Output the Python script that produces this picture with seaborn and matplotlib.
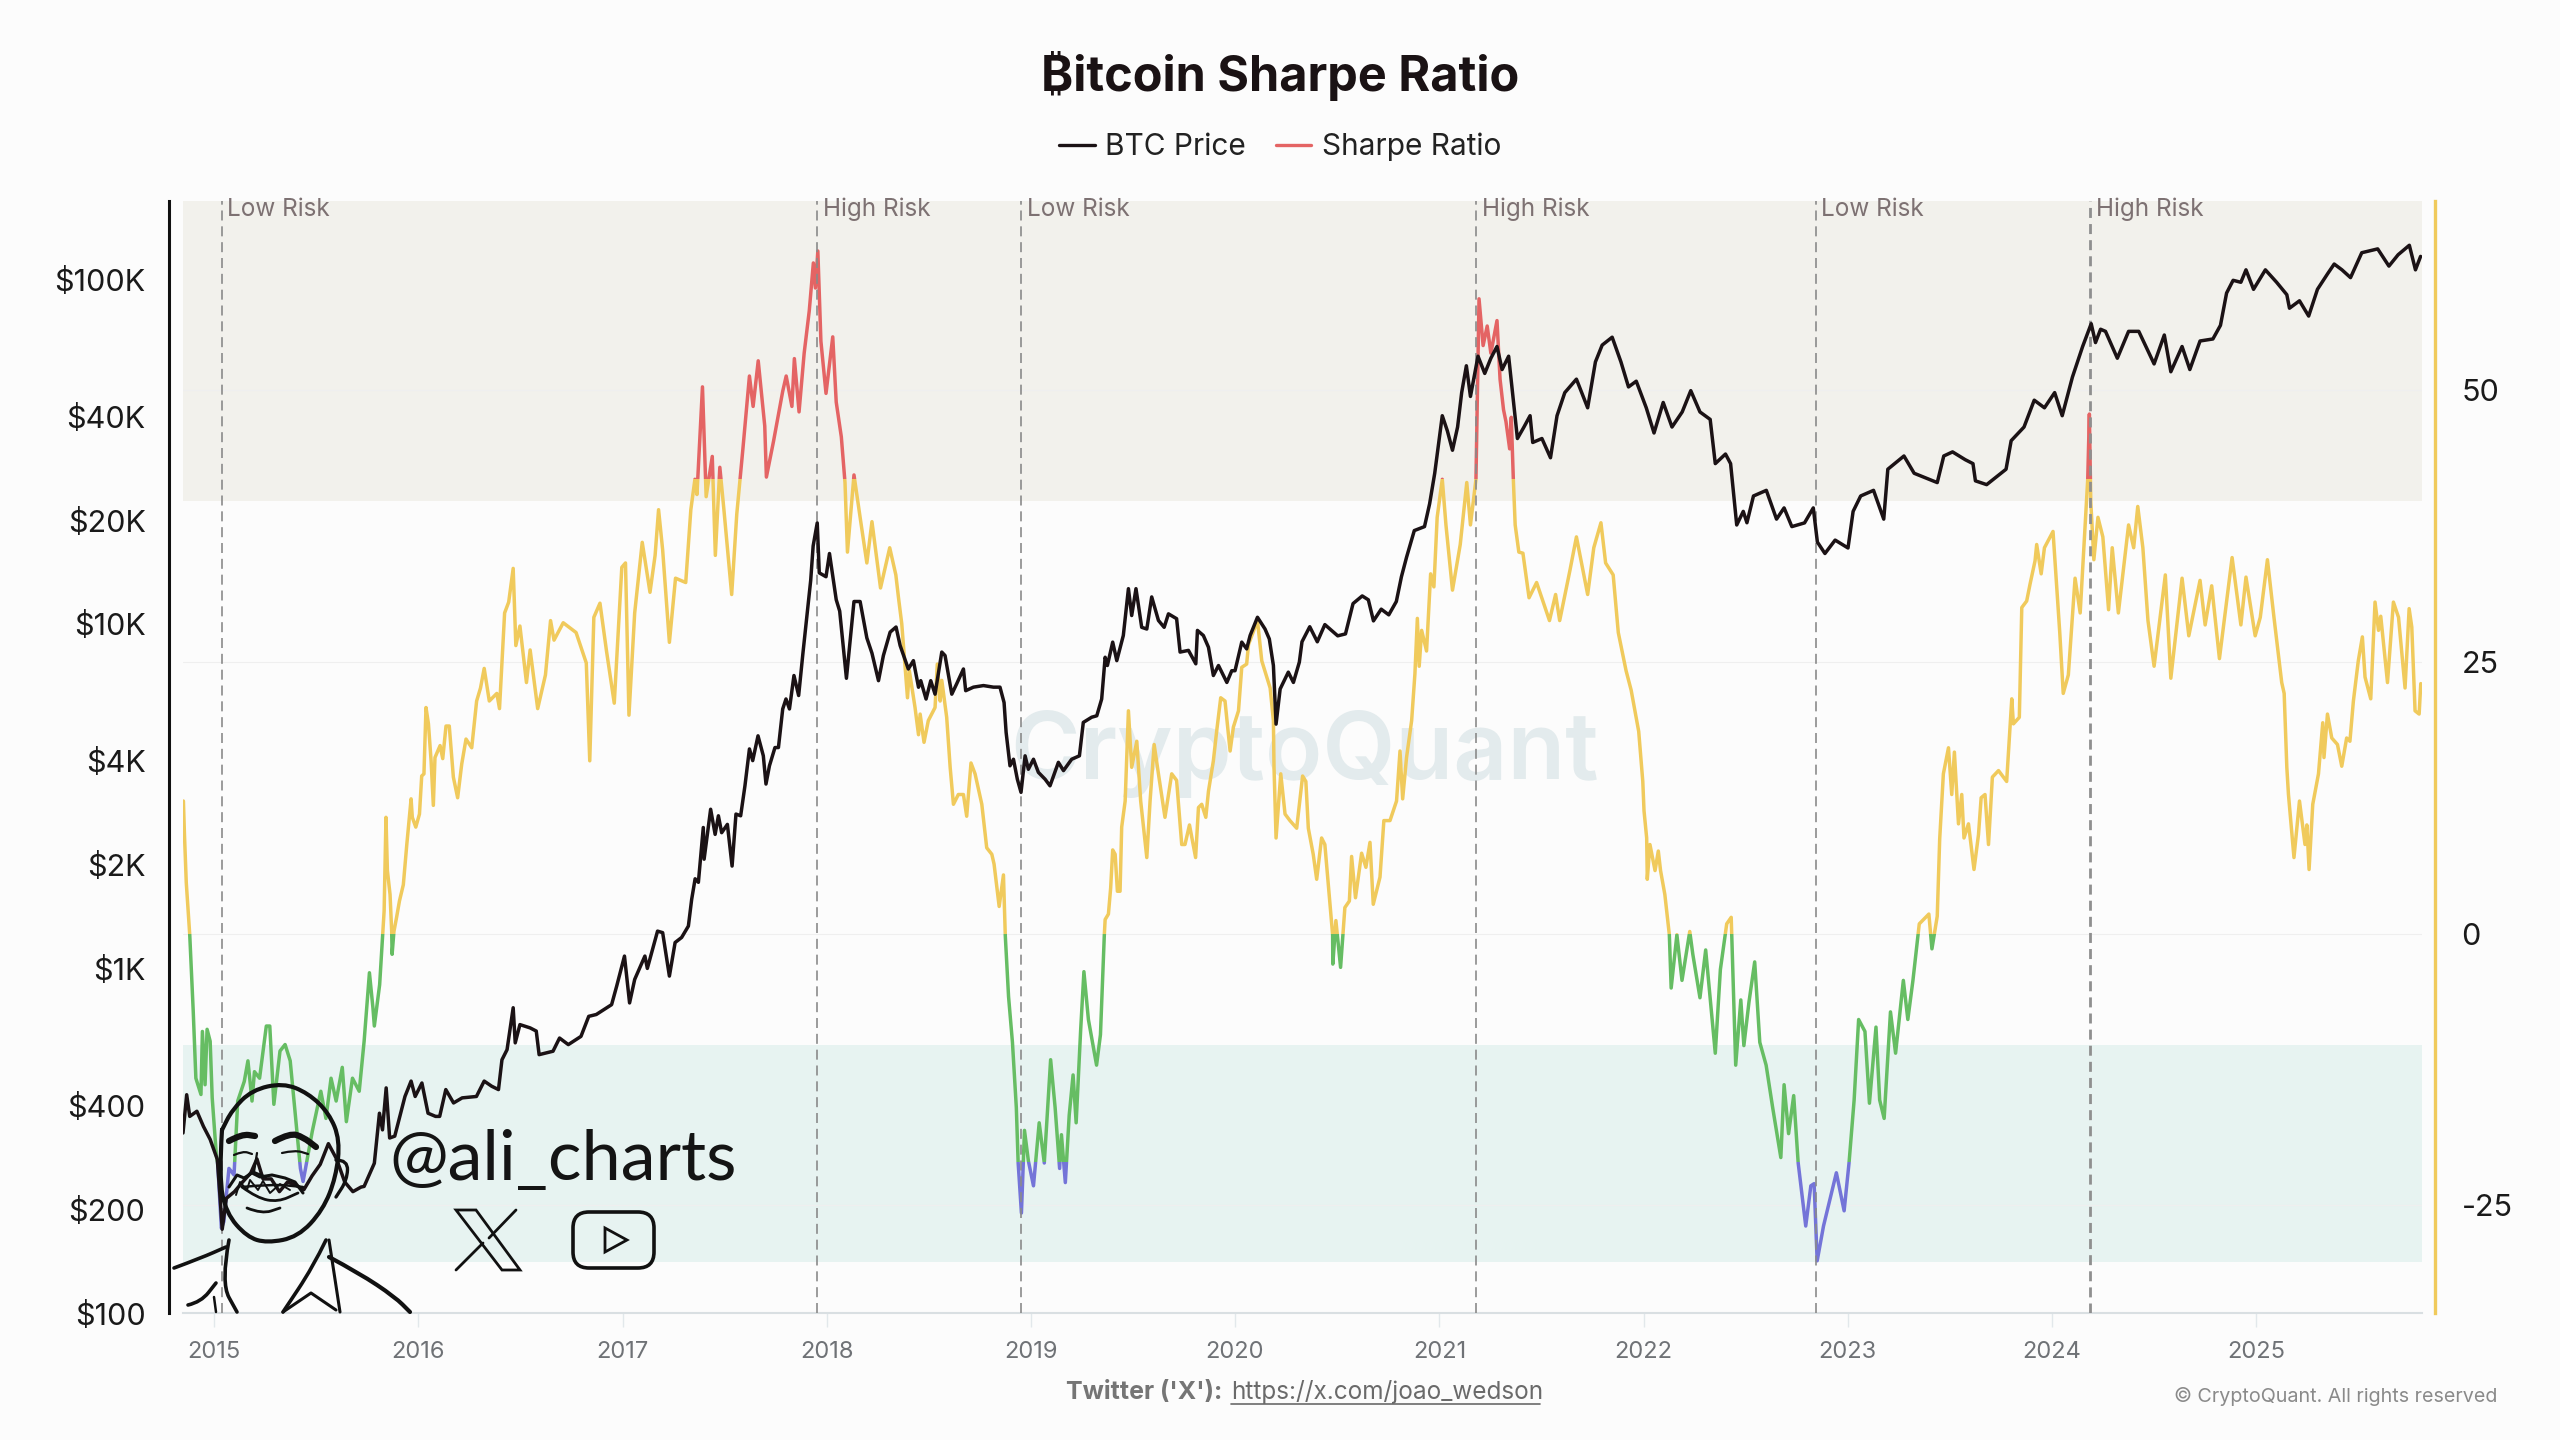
import numpy as np
import pandas as pd
import matplotlib
matplotlib.use("Agg")
import matplotlib.pyplot as plt
import matplotlib.dates as mdates
import matplotlib.transforms as mtrans
from matplotlib.lines import Line2D
from matplotlib.patches import Rectangle, FancyBboxPatch, Polygon, PathPatch
from matplotlib.path import Path
import seaborn as sns

# =========================
# DATA (x in decimal years)
# =========================

sharpe_years = [
    2014.85, 2014.855, 2014.864, 2014.881, 2014.898, 2014.911, 2014.936, 2014.943, 2014.956, 2014.966, 2014.981, 2014.991,
    2015.011, 2015.018, 2015.036, 2015.048, 2015.061, 2015.073, 2015.098, 2015.116, 2015.148, 2015.166, 2015.186, 2015.198,
    2015.223, 2015.256, 2015.273, 2015.293, 2015.323, 2015.348, 2015.373, 2015.398, 2015.423, 2015.436, 2015.448, 2015.481,
    2015.523, 2015.548, 2015.573, 2015.598, 2015.628, 2015.648, 2015.678, 2015.711, 2015.735, 2015.761, 2015.778, 2015.785,
    2015.811, 2015.826, 2015.833, 2015.842, 2015.849, 2015.862, 2015.870, 2015.872, 2015.881, 2015.894, 2015.908, 2015.927,
    2015.944, 2015.965, 2015.971, 2015.988, 2016.006, 2016.017, 2016.028, 2016.038, 2016.050, 2016.063, 2016.074, 2016.082,
    2016.107, 2016.12, 2016.136, 2016.152, 2016.172, 2016.193, 2016.213, 2016.234, 2016.262, 2016.286, 2016.305, 2016.323,
    2016.348, 2016.385, 2016.398, 2016.423, 2016.443, 2016.465, 2016.478, 2016.498, 2016.53, 2016.548, 2016.585, 2016.623,
    2016.648, 2016.665, 2016.71, 2016.773, 2016.823, 2016.84, 2016.86, 2016.89, 2016.922, 2016.96, 2016.997, 2017.015,
    2017.032, 2017.06, 2017.097, 2017.135, 2017.16, 2017.177, 2017.197, 2017.23, 2017.26, 2017.31, 2017.335, 2017.355,
    2017.365, 2017.392, 2017.41, 2017.44, 2017.455, 2017.477, 2017.497, 2017.535, 2017.56, 2017.59, 2017.622, 2017.64,
    2017.665, 2017.697, 2017.705, 2017.74, 2017.785, 2017.802, 2017.83, 2017.842, 2017.865, 2017.89, 2017.915, 2017.935,
    2017.945, 2017.957, 2017.972, 2017.997, 2018.03, 2018.047, 2018.072, 2018.09, 2018.102, 2018.134, 2018.164, 2018.197,
    2018.222, 2018.264, 2018.309, 2018.339, 2018.352, 2018.368, 2018.396, 2018.405, 2018.433, 2018.45, 2018.458, 2018.477,
    2018.498, 2018.531, 2018.542, 2018.556, 2018.564, 2018.588, 2018.605, 2018.621, 2018.645, 2018.67, 2018.686, 2018.707,
    2018.727, 2018.76, 2018.784, 2018.809, 2018.82, 2018.845, 2018.866, 2018.875, 2018.891, 2018.91, 2018.929, 2018.938,
    2018.954, 2018.969, 2018.988, 2019.013, 2019.041, 2019.066, 2019.097, 2019.119, 2019.141, 2019.15, 2019.169, 2019.188,
    2019.207, 2019.222, 2019.244, 2019.26, 2019.282, 2019.322, 2019.341, 2019.36, 2019.364, 2019.38, 2019.391, 2019.401,
    2019.413, 2019.424, 2019.437, 2019.445, 2019.462, 2019.478, 2019.494, 2019.519, 2019.538, 2019.568, 2019.584, 2019.604,
    2019.625, 2019.657, 2019.69, 2019.714, 2019.739, 2019.755, 2019.777, 2019.807, 2019.821, 2019.837, 2019.857, 2019.87,
    2019.894, 2019.91, 2019.93, 2019.951, 2019.976, 2019.992, 2020.017, 2020.033, 2020.057, 2020.066, 2020.11, 2020.131,
    2020.172, 2020.188, 2020.191, 2020.201, 2020.224, 2020.245, 2020.269, 2020.302, 2020.331, 2020.347, 2020.359, 2020.383,
    2020.4, 2020.424, 2020.44, 2020.457, 2020.478, 2020.479, 2020.494, 2020.517, 2020.538, 2020.56, 2020.571, 2020.59,
    2020.62, 2020.641, 2020.661, 2020.677, 2020.71, 2020.729, 2020.759, 2020.791, 2020.808, 2020.821, 2020.84, 2020.865,
    2020.881, 2020.893, 2020.902, 2020.914, 2020.938, 2020.958, 2020.974, 2020.99, 2021.015, 2021.033, 2021.065, 2021.103,
    2021.135, 2021.153, 2021.18, 2021.185, 2021.195, 2021.215, 2021.235, 2021.253, 2021.283, 2021.298, 2021.315, 2021.327,
    2021.345, 2021.353, 2021.363, 2021.372, 2021.39, 2021.41, 2021.44, 2021.477, 2021.54, 2021.57, 2021.59, 2021.64,
    2021.672, 2021.727, 2021.757, 2021.792, 2021.815, 2021.852, 2021.877, 2021.915, 2021.94, 2021.977, 2021.997, 2022.003,
    2022.016, 2022.019, 2022.032, 2022.057, 2022.073, 2022.084, 2022.105, 2022.127, 2022.136, 2022.164, 2022.189, 2022.227,
    2022.242, 2022.277, 2022.305, 2022.352, 2022.377, 2022.408, 2022.43, 2022.452, 2022.477, 2022.492, 2022.517, 2022.545,
    2022.57, 2022.601, 2022.633, 2022.673, 2022.689, 2022.711, 2022.736, 2022.758, 2022.795, 2022.82, 2022.836, 2022.851,
    2022.882, 2022.914, 2022.945, 2022.983, 2023.007, 2023.032, 2023.054, 2023.085, 2023.107, 2023.139, 2023.157, 2023.179,
    2023.21, 2023.235, 2023.273, 2023.295, 2023.32, 2023.351, 2023.398, 2023.413, 2023.439, 2023.451, 2023.469, 2023.494,
    2023.51, 2023.523, 2023.543, 2023.559, 2023.57, 2023.592, 2023.619, 2023.641, 2023.654, 2023.673, 2023.69, 2023.709,
    2023.739, 2023.779, 2023.804, 2023.812, 2023.841, 2023.853, 2023.877, 2023.894, 2023.918, 2023.926, 2023.948, 2023.964,
    2024.006, 2024.039, 2024.056, 2024.081, 2024.114, 2024.139, 2024.176, 2024.184, 2024.191, 2024.206, 2024.226, 2024.25,
    2024.278, 2024.296, 2024.326, 2024.376, 2024.401, 2024.421, 2024.446, 2024.471, 2024.501, 2024.556, 2024.583, 2024.638,
    2024.671, 2024.726, 2024.751, 2024.783, 2024.821, 2024.883, 2024.926, 2024.951, 2024.996, 2025.021, 2025.056, 2025.088,
    2025.126, 2025.138, 2025.151, 2025.159, 2025.186, 2025.213, 2025.24, 2025.249, 2025.26, 2025.278, 2025.306, 2025.327,
    2025.333, 2025.35, 2025.371, 2025.399, 2025.42, 2025.444, 2025.46, 2025.477, 2025.501, 2025.521, 2025.534, 2025.562,
    2025.583, 2025.6, 2025.611, 2025.644, 2025.673, 2025.698, 2025.73, 2025.75, 2025.763, 2025.779, 2025.799, 2025.807,
]

sharpe_values = [
    12.2, 9.2, 4.7, -0.1, -7.1, -13.3, -14.8, -9, -13.9, -8.8, -9.9, -15.1,
    -20.3, -21.2, -27.1, -26.5, -24, -21.6, -22.2, -15.4, -13.6, -11.7, -15.4, -12.7,
    -13.3, -8.5, -8.5, -15.7, -10.8, -10.2, -11.7, -16.6, -21.6, -22.8, -21.6, -18.2,
    -14.5, -17, -13.3, -15.4, -12.3, -17.3, -13.3, -14.5, -9.9, -3.6, -6.8, -8.5,
    -4.7, -0.1, 2.1, 10.7, 5.8, 3.6, 0.2, -1.9, 0.2, 1.5, 3, 4.5,
    8.2, 12.4, 10.7, 9.8, 11, 14.5, 14.7, 20.8, 19.3, 15.9, 11.8, 16.2,
    17.3, 16.1, 19.1, 19.1, 14.4, 12.5, 15.6, 17.9, 17.1, 21.4, 22.6, 24.4,
    21.4, 22.1, 20.7, 29.5, 30.5, 33.6, 26.5, 28.3, 23.1, 26.1, 20.7, 23.8,
    28.8, 27, 28.6, 27.7, 24.9, 15.9, 29.1, 30.4, 26, 21.2, 33.7, 34.1,
    20.1, 29.5, 36, 31.4, 34.8, 39, 35.3, 26.8, 32.7, 32.3, 39, 41.8,
    40.4, 50.3, 40.2, 43.9, 34.8, 42.9, 39, 31.2, 38.6, 44.6, 51.3, 48.5,
    52.7, 46.7, 42, 45.3, 49.9, 51.3, 48.5, 52.9, 48, 53.4, 57.3, 61.7,
    59.4, 62.8, 54.5, 49.7, 54.9, 48.9, 45.7, 41.5, 35.1, 42.2, 38.3, 34.1,
    37.9, 31.8, 35.5, 33, 30.9, 28.5, 21.7, 24.2, 20.8, 18.3, 20.2, 17.6,
    19.6, 20.8, 24.8, 21.4, 23.3, 19.9, 15.3, 11.9, 12.8, 12.8, 10.8, 15.7,
    14.7, 11.9, 7.9, 7.3, 6.4, 2.5, 5.4, -0.2, -5.8, -10, -16, -21.1,
    -25.7, -18.1, -20.9, -23.2, -17.4, -21.1, -11.6, -16, -21.6, -18.5, -22.9, -16.7,
    -13, -17.4, -8.9, -3.5, -7.9, -12.1, -9.3, -0.1, 1.3, 1.8, 4.2, 7.7,
    7.3, 3.9, 3.9, 9.8, 12.2, 20.5, 15.3, 17.7, 12.2, 7, 12.2, 17.4,
    14.7, 10.7, 14.7, 14.1, 8.2, 8.2, 10, 7, 11.6, 11.9, 10.7, 13.1,
    15.9, 18.6, 21.7, 21.4, 16.8, 19, 20.5, 24.5, 24.8, 26.6, 28.8, 25.1,
    22.6, 19.6, 15.3, 8.8, 14.7, 11, 10.4, 9.7, 14.5, 14, 9.7, 7.3,
    5, 8.8, 8.2, 4.5, -0.1, -2.8, 1.2, -3.1, 2.4, 3, 7.1, 3.3,
    7.4, 6.1, 8.4, 2.7, 5.2, 10.4, 10.4, 12.2, 16.8, 12.4, 16.2, 19.6,
    23.9, 29, 24.6, 27.9, 26, 33.1, 31.9, 38.3, 41.8, 37.6, 31.6, 35.8,
    41.5, 37.6, 41.8, 47.5, 58.4, 54.1, 55.9, 53.4, 56.4, 51, 48.2, 47.1,
    44.6, 47.5, 41.8, 37.6, 35.1, 35, 30.9, 32.3, 28.8, 31.2, 28.8, 33.4,
    36.5, 31.2, 35.5, 37.8, 34.1, 33, 27.7, 24.2, 22.4, 18.6, 14, 11.3,
    8.8, 5, 8.2, 5.8, 7.6, 5.8, 3.6, -0.1, -5, -0.1, -4.3, 0.2,
    -1.9, -5.9, -1.5, -11, -3.3, 0.9, 1.5, -12.1, -6.1, -10.3, -6.3, -2.6,
    -10, -12.1, -16, -20.6, -13.9, -18.4, -14.9, -21.1, -26.9, -23.2, -23, -30.1,
    -26.9, -24.4, -22, -25.5, -21.1, -15.3, -7.9, -9, -15.6, -8.6, -15.3, -17,
    -7.2, -11, -4.3, -7.9, -4.3, 0.9, 1.8, -1.4, 1.6, 8.7, 14.7, 17.1,
    12.8, 16.7, 10.1, 12.8, 8.8, 10.1, 5.9, 9.1, 12.5, 12.8, 8.2, 14.4,
    15, 14, 21.6, 19.3, 19.9, 30, 30.6, 32.2, 34.3, 35.8, 33.1, 35.5,
    37, 27.7, 22.1, 23.8, 32.7, 29.5, 41.8, 47.8, 39.7, 34.4, 38.3, 36.5,
    29.8, 35.5, 29.5, 37.6, 35.5, 39.3, 35.5, 28.8, 24.6, 33, 23.5, 32.7,
    27.4, 32.5, 28.4, 32, 25.3, 34.6, 28.4, 32.8, 27.4, 29.1, 34.4, 29.1,
    23.1, 22.1, 15.3, 12.8, 7, 12.2, 8.2, 10, 5.9, 11.9, 14.7, 19.4,
    16.2, 20.2, 18, 17.4, 15.4, 18, 17.7, 21.4, 25.1, 27.3, 23.6, 21.6,
    30.5, 27.9, 29.2, 23.1, 30.5, 29.1, 22.6, 29.9, 28.2, 20.5, 20.2, 23,
]

price_years = [
    2014.848, 2014.866, 2014.881, 2014.916, 2014.948, 2014.981, 2015.016, 2015.03, 2015.04, 2015.06, 2015.10, 2015.14,
    2015.18, 2015.21, 2015.24, 2015.28, 2015.32, 2015.36, 2015.40, 2015.44, 2015.48, 2015.52, 2015.56, 2015.60,
    2015.64, 2015.68, 2015.72, 2015.735, 2015.785, 2015.81, 2015.825, 2015.843, 2015.86, 2015.885, 2015.91, 2015.935,
    2015.965, 2015.985, 2016.018, 2016.048, 2016.085, 2016.105, 2016.135, 2016.173, 2016.215, 2016.285, 2016.323, 2016.36,
    2016.393, 2016.41, 2016.435, 2016.465, 2016.475, 2016.498, 2016.548, 2016.578, 2016.592, 2016.66, 2016.692, 2016.735,
    2016.797, 2016.835, 2016.872, 2016.947, 2016.972, 2017.01, 2017.035, 2017.06, 2017.11, 2017.122, 2017.172, 2017.197,
    2017.23, 2017.258, 2017.29, 2017.323, 2017.339, 2017.356, 2017.372, 2017.396, 2017.4, 2017.432, 2017.454, 2017.47,
    2017.486, 2017.514, 2017.537, 2017.556, 2017.579, 2017.6, 2017.622, 2017.638, 2017.664, 2017.69, 2017.703, 2017.72,
    2017.747, 2017.764, 2017.785, 2017.801, 2017.818, 2017.84, 2017.863, 2017.884, 2017.922, 2017.934, 2017.954, 2017.964,
    2017.997, 2018.014, 2018.047, 2018.064, 2018.097, 2018.134, 2018.164, 2018.197, 2018.222, 2018.254, 2018.278, 2018.311,
    2018.34, 2018.36, 2018.4, 2018.425, 2018.45, 2018.461, 2018.487, 2018.51, 2018.531, 2018.564, 2018.58, 2018.613,
    2018.637, 2018.67, 2018.681, 2018.719, 2018.768, 2018.817, 2018.849, 2018.869, 2018.879, 2018.898, 2018.915, 2018.934,
    2018.952, 2018.972, 2018.988, 2019.013, 2019.037, 2019.07, 2019.094, 2019.135, 2019.16, 2019.2, 2019.238, 2019.257,
    2019.298, 2019.323, 2019.347, 2019.364, 2019.375, 2019.401, 2019.421, 2019.453, 2019.478, 2019.494, 2019.515, 2019.543,
    2019.568, 2019.592, 2019.625, 2019.653, 2019.674, 2019.714, 2019.731, 2019.772, 2019.808, 2019.816, 2019.845, 2019.87,
    2019.894, 2019.919, 2019.96, 2019.984, 2020.0, 2020.033, 2020.057, 2020.074, 2020.11, 2020.147, 2020.168, 2020.188,
    2020.201, 2020.221, 2020.261, 2020.286, 2020.315, 2020.328, 2020.366, 2020.403, 2020.44, 2020.503, 2020.541, 2020.578,
    2020.623, 2020.653, 2020.678, 2020.716, 2020.753, 2020.79, 2020.815, 2020.84, 2020.878, 2020.928, 2020.953, 2020.978,
    2021.015, 2021.04, 2021.065, 2021.09, 2021.11, 2021.133, 2021.153, 2021.19, 2021.223, 2021.253, 2021.283, 2021.308,
    2021.34, 2021.365, 2021.383, 2021.415, 2021.445, 2021.458, 2021.503, 2021.545, 2021.577, 2021.615, 2021.672, 2021.727,
    2021.765, 2021.798, 2021.847, 2021.89, 2021.927, 2021.965, 2022.014, 2022.052, 2022.097, 2022.14, 2022.19, 2022.232,
    2022.277, 2022.327, 2022.352, 2022.402, 2022.427, 2022.457, 2022.489, 2022.507, 2022.539, 2022.602, 2022.652, 2022.689,
    2022.727, 2022.789, 2022.832, 2022.852, 2022.889, 2022.939, 2023.002, 2023.027, 2023.064, 2023.127, 2023.177, 2023.197,
    2023.276, 2023.326, 2023.439, 2023.471, 2023.514, 2023.576, 2023.614, 2023.626, 2023.681, 2023.776, 2023.801, 2023.864,
    2023.914, 2023.964, 2024.014, 2024.051, 2024.101, 2024.151, 2024.193, 2024.214, 2024.239, 2024.263, 2024.321, 2024.376,
    2024.426, 2024.501, 2024.551, 2024.583, 2024.638, 2024.676, 2024.726, 2024.789, 2024.826, 2024.856, 2024.888, 2024.926,
    2024.951, 2024.988, 2025.046, 2025.101, 2025.151, 2025.164, 2025.213, 2025.258, 2025.301, 2025.351, 2025.383, 2025.421,
    2025.463, 2025.518, 2025.596, 2025.651, 2025.696, 2025.751, 2025.781, 2025.806,
]

price_values = [
    333, 430, 372, 385, 348, 319, 279, 215, 175, 215, 225, 240,
    255, 280, 245, 245, 225, 240, 235, 228, 250, 270, 310, 280,
    240, 225, 232, 233, 272, 380, 340, 450, 322, 326, 372, 425,
    471, 425, 465, 380, 372, 372, 445, 407, 421, 425, 471, 455,
    445, 543, 581, 769, 608, 687, 672, 658, 562, 575, 628, 601,
    635, 726, 735, 785, 889, 1086, 794, 929, 1086, 1000, 1283, 1270,
    950, 1189, 1230, 1327, 1585, 1820, 1778, 2564, 2075, 2897, 2449, 2773,
    2477, 2618, 1982, 2805, 2773, 3388, 4335, 4009, 4732, 4140, 3428, 3873,
    4375, 4375, 5662, 6053, 5662, 7080, 6194, 8222, 13370, 16827, 19634, 14060,
    13700, 16000, 11750, 10890, 6950, 11610, 11610, 9100, 8220, 6840, 8090, 9462,
    9790, 8650, 7396, 7820, 6546, 6840, 6050, 6840, 6250, 8280, 8090, 6250,
    6700, 7396, 6397, 6550, 6620, 6550, 6550, 5910, 4842, 3873, 4046, 3540,
    3243, 4140, 3784, 4046, 3707, 3540, 3388, 3963, 3750, 4046, 4140, 5175,
    5358, 5410, 6050, 8000, 7570, 8850, 7820, 9250, 12650, 10570, 12650, 9770,
    9660, 11970, 10230, 9770, 10690, 10350, 8280, 8375, 7656, 9570, 9250, 8550,
    7080, 7570, 6760, 7310, 7310, 8850, 8460, 9250, 10450, 9660, 9040, 7570,
    5117, 6470, 7240, 6760, 7740, 8870, 9810, 8870, 9950, 9230, 9350, 11450,
    12050, 11740, 10200, 11030, 10620, 11610, 13700, 15600, 18650, 19150, 22300, 27350,
    40180, 36300, 31900, 37250, 46880, 56100, 45700, 59800, 53300, 59000, 63800, 54700,
    59800, 43450, 34500, 37250, 40180, 33600, 34500, 30340, 40180, 46880, 51300, 42360,
    57560, 64400, 67900, 57560, 48700, 50600, 42360, 35800, 43900, 37250, 41200, 47500,
    41200, 39200, 29170, 31100, 29170, 19360, 21200, 19650, 23500, 24400, 20130, 21700,
    19150, 19630, 21700, 17270, 16000, 17500, 16600, 21200, 23500, 24400, 20130, 28100,
    30700, 27350, 25700, 30700, 31550, 29950, 29170, 26000, 25350, 28100, 34000, 37250,
    44570, 42360, 46880, 40180, 52000, 63800, 74300, 65500, 71600, 70600, 59000, 70600,
    70600, 56800, 68900, 53900, 63800, 54700, 66200, 67100, 73500, 91200, 99300, 98000,
    106500, 93500, 106500, 98000, 90200, 82400, 86600, 78200, 93500, 103800, 110700, 106500,
    101100, 119400, 122500, 109200, 117800, 125500, 106500, 116500,
]

year_ticks = [2015, 2016, 2017, 2018, 2019, 2020, 2021, 2022, 2023, 2024, 2025]

price_ticks = [100, 200, 400, 1000, 2000, 4000, 10000, 20000, 40000, 100000]
price_labels = ["$100", "$200", "$400", "$1K", "$2K", "$4K", "$10K", "$20K", "$40K", "$100K"]

sharpe_ticks = [-25, 0, 25, 50]

risk_dates = ["2015-01-15", "2017-12-15", "2018-12-15", "2021-03-08", "2022-11-05", "2024-03-10"]
risk_labels = ["Low Risk", "High Risk", "Low Risk", "High Risk", "Low Risk", "High Risk"]

# (low, high, colour) for the sharpe line
sharpe_colors = [
    (41.8, 80, "#e46464"),
    (0, 41.8, "#f0ca5c"),
    (-21, 0, "#66bd63"),
    (-80, -21, "#7474d8"),
]

BLACK = "#1b1215"


def to_dates(years):
    return pd.Timestamp("2015-01-01") + pd.to_timedelta((np.array(years) - 2015) * 365.25, unit="D")


sharpe_df = pd.DataFrame({"date": to_dates(sharpe_years), "sharpe": sharpe_values})
price_df = pd.DataFrame({"date": to_dates(price_years), "price": price_values})

# =========================
# FIGURE
# =========================

sns.set_theme(style="white")
plt.rcParams["font.family"] = ["Inter", "DejaVu Sans"]

fig = plt.figure(figsize=(25.6, 14.4), dpi=100, facecolor="#fcfcfc")

ax_sharpe = fig.add_axes([183 / 2560, (1440 - 1313) / 1440, (2422 - 183) / 2560, (1313 - 201) / 1440])
ax_sharpe.set_facecolor("#fcfcfc")
ax_price = ax_sharpe.twinx()
ax_sharpe.yaxis.tick_right()
ax_sharpe.yaxis.set_label_position("right")
ax_price.yaxis.tick_left()
ax_price.yaxis.set_label_position("left")
ax_sharpe.set_zorder(1)
ax_price.set_zorder(2)
ax_price.patch.set_visible(False)

# bands and grid
ax_sharpe.axhspan(39.8, 80, color="#f2f1ec", lw=0, zorder=0)
ax_sharpe.axhspan(-30.2, -10.2, color="#e7f3f1", lw=0, zorder=0)
for v in sharpe_ticks:
    ax_sharpe.axhline(v, color="#efefef", lw=0.8, zorder=0.5)

# sharpe line, one copy for each colour clipped to its range
blend = mtrans.blended_transform_factory(ax_sharpe.transAxes, ax_sharpe.transData)
for low, high, col in sharpe_colors:
    sns.lineplot(data=sharpe_df, x="date", y="sharpe", estimator=None, sort=False,
                 color=col, lw=2.5, ax=ax_sharpe, legend=False, zorder=3)
    ax_sharpe.lines[-1].set_clip_path(Rectangle((0, low), 1, high - low, transform=blend))

sns.lineplot(data=price_df, x="date", y="price", estimator=None, sort=False,
             color=BLACK, lw=2.5, ax=ax_price, legend=False, zorder=3)

# risk markers
top_blend = mtrans.blended_transform_factory(ax_price.transData, ax_price.transAxes)
for i, (d, lab) in enumerate(zip(risk_dates, risk_labels)):
    last = i == len(risk_dates) - 1
    when = pd.Timestamp(d)
    ax_price.axvline(when, color="#8f8f8f" if last else "#8a8a8a",
                     lw=2.0 if last else 1.2, ls=(0, (6, 3.5)) if not last else (0, (3.6, 2.2)), zorder=2)
    ax_price.annotate(lab, xy=(mdates.date2num(when), 0.9925), xycoords=top_blend, xytext=(4, 0),
                      textcoords="offset points", va="center", ha="left", fontsize=17.5, color="#7d7172",
                      annotation_clip=False)

# scales
ax_sharpe.set_xlim(to_dates([2014.848])[0], to_dates([2025.813])[0])
ax_price.set_yscale("log")
ax_price.set_ylim(100, 168700)
ax_sharpe.set_ylim(-34.9, 67.4)

ax_price.set_yticks(price_ticks)
ax_price.set_yticklabels(price_labels)
ax_price.minorticks_off()
ax_price.tick_params(axis="y", length=0, pad=17, labelsize=22, labelcolor="#1a1a1a", which="both")
ax_sharpe.set_yticks(sharpe_ticks)
ax_sharpe.set_yticklabels([str(v) for v in sharpe_ticks])
ax_sharpe.tick_params(axis="y", length=0, pad=19, labelsize=22, labelcolor="#1a1a1a", right=True, labelright=True, left=False, labelleft=False)

ax_sharpe.set_xticks([pd.Timestamp(f"{y}-01-01") for y in year_ticks])
ax_sharpe.set_xticklabels([str(y) for y in year_ticks])
ax_sharpe.tick_params(axis="x", bottom=True, length=10, width=1, color="#e2e8eb", labelsize=17, labelcolor="#6f7276", pad=10)
ax_price.tick_params(axis="x", bottom=False, labelbottom=False)
ax_sharpe.set_xlabel("")
ax_sharpe.set_ylabel("")
ax_price.set_xlabel("")
ax_price.set_ylabel("")

for a in (ax_sharpe, ax_price):
    a.spines["top"].set_visible(False)
    a.spines["bottom"].set_visible(False)
    a.spines["left"].set_visible(False)
    a.spines["right"].set_visible(False)
ax_sharpe.spines["bottom"].set_visible(True)
ax_sharpe.spines["bottom"].set_color("#d9dfe2")
ax_sharpe.spines["bottom"].set_linewidth(1.5)
ax_price.spines["left"].set_visible(True)
ax_price.spines["left"].set_position(("outward", 10))
ax_price.spines["left"].set_color("#111111")
ax_price.spines["left"].set_linewidth(2.2)
ax_sharpe.spines["right"].set_visible(True)
ax_sharpe.spines["right"].set_position(("outward", 9.4))
ax_sharpe.spines["right"].set_color("#f0ca5c")
ax_sharpe.spines["right"].set_linewidth(2.4)

# watermark
ax_sharpe.text(0.501, 0.503, "CryptoQuant", transform=ax_sharpe.transAxes, ha="center", va="center",
               fontsize=68, fontweight="semibold", color="#e3ebed", zorder=1)

# title and legend
fig.suptitle("₿itcoin Sharpe Ratio", x=0.5, y=1 - 76 / 1440, va="center", fontsize=35, fontweight="bold", color="#1a1214")
handles = [Line2D([0], [0], color=BLACK, lw=2.4), Line2D([0], [0], color="#e46464", lw=2.4)]
fig.legend(handles, ["BTC Price", "Sharpe Ratio"], loc="center", bbox_to_anchor=(0.5, 1 - 147 / 1440),
           ncol=2, frameon=False, fontsize=21.5, handlelength=1.2, handletextpad=0.35, columnspacing=1.0,
           labelcolor="#222222")

# =========================
# OVERLAY IN PIXELS (logo, footer)
# =========================

ov = fig.add_axes([0, 0, 1, 1])
ov.set_xlim(0, 2560)
ov.set_ylim(1440, 0)
ov.axis("off")
ov.set_zorder(5)
ov.patch.set_visible(False)


def sketch(pts, lw=2.4):
    # smooth line through the midpoints of pts
    pts = np.array(pts, dtype=float)
    verts = [pts[0]]
    codes = [Path.MOVETO]
    for i in range(1, len(pts) - 1):
        verts += [pts[i], (pts[i] + pts[i + 1]) / 2]
        codes += [Path.CURVE3, Path.CURVE3]
    verts.append(pts[-1])
    codes.append(Path.LINETO)
    ov.add_patch(PathPatch(Path(verts, codes), fill=False, ec="#111111", lw=lw, capstyle="round", joinstyle="round"))


sketch([(222, 1130), (219, 1177), (226, 1213), (247, 1237), (267, 1243), (298, 1237), (323, 1210), (336, 1177),
        (340, 1140), (329, 1113), (308, 1093), (283, 1083), (252, 1090), (232, 1110), (222, 1130)], 3)
sketch([(229, 1141), (242, 1134), (255, 1136)], 4.5)
sketch([(275, 1141), (290, 1133), (303, 1137), (316, 1147)], 4.5)
sketch([(234, 1155), (243, 1151), (252, 1154)], 1.6)
sketch([(282, 1153), (295, 1150), (308, 1154)], 1.6)
ov.plot([257, 254, 266], [1153, 1172, 1177], color="#111111", lw=1.6)
ov.plot([229, 237, 244, 252, 260, 272, 285, 295, 303], [1187, 1175, 1178, 1173, 1177, 1175, 1178, 1182, 1193], color="#111111", lw=2.2)
ov.plot([236, 240, 247, 250, 258, 263, 270, 280, 290], [1195, 1182, 1190, 1180, 1190, 1181, 1193, 1184, 1190], color="#111111", lw=1.4)
sketch([(242, 1187), (272, 1184), (303, 1187)], 1.8)
sketch([(242, 1187), (257, 1198), (278, 1202), (298, 1193)], 2)
sketch([(247, 1208), (262, 1214), (280, 1208)], 2)
sketch([(336, 1160), (348, 1160), (347, 1180), (336, 1197)], 2.4)
sketch([(229, 1240), (221, 1283), (237, 1312)], 2.6)
sketch([(326, 1240), (313, 1267), (283, 1312)], 2.6)
sketch([(174, 1268), (201, 1258), (226, 1247)], 2.6)
sketch([(188, 1305), (201, 1302), (216, 1283)], 2.6)
sketch([(329, 1257), (359, 1273), (395, 1297), (410, 1312)], 3)
ov.plot([329, 340], [1240, 1312], color="#111111", lw=2.2)
ov.plot([283, 311, 336], [1312, 1293, 1310], color="#111111", lw=2.2)
ov.plot([214, 216], [1297, 1312], color="#111111", lw=1.8)

ov.text(389, 1161, "@ali_charts", fontsize=50.5, family=["Lato", "DejaVu Sans"],
        color="#141414", va="center", ha="left")

ov.add_patch(Polygon([(456, 1210), (476, 1210), (520, 1270), (502, 1270)], closed=True, fill=False, ec="#111111", lw=2))
ov.plot([516, 489], [1210, 1238], color="#111111", lw=2)
ov.plot([456, 483], [1270, 1243], color="#111111", lw=2)
ov.add_patch(FancyBboxPatch((587, 1226), 53, 28, boxstyle="round,pad=14,rounding_size=16", fill=False, ec="#111111", lw=2.6))
ov.add_patch(Polygon([(605, 1228), (627, 1240), (605, 1252)], closed=True, fill=False, ec="#111111", lw=2))

ov.text(1066, 1392, "Twitter ('X'):", fontsize=18, fontweight="bold", color="#757575", ha="left", va="center")
ov.text(1231, 1392, "https://x.com/joao_wedson", fontsize=17.5, color="#6a6a6a", ha="left", va="center")
ov.plot([1231, 1540], [1404, 1404], color="#6a6a6a", lw=1.2)
ov.text(2497, 1396, "© CryptoQuant. All rights reserved", fontsize=14.2, color="#8a8a8a", ha="right", va="center")

fig.savefig("out.png", dpi=100, facecolor=fig.get_facecolor())
